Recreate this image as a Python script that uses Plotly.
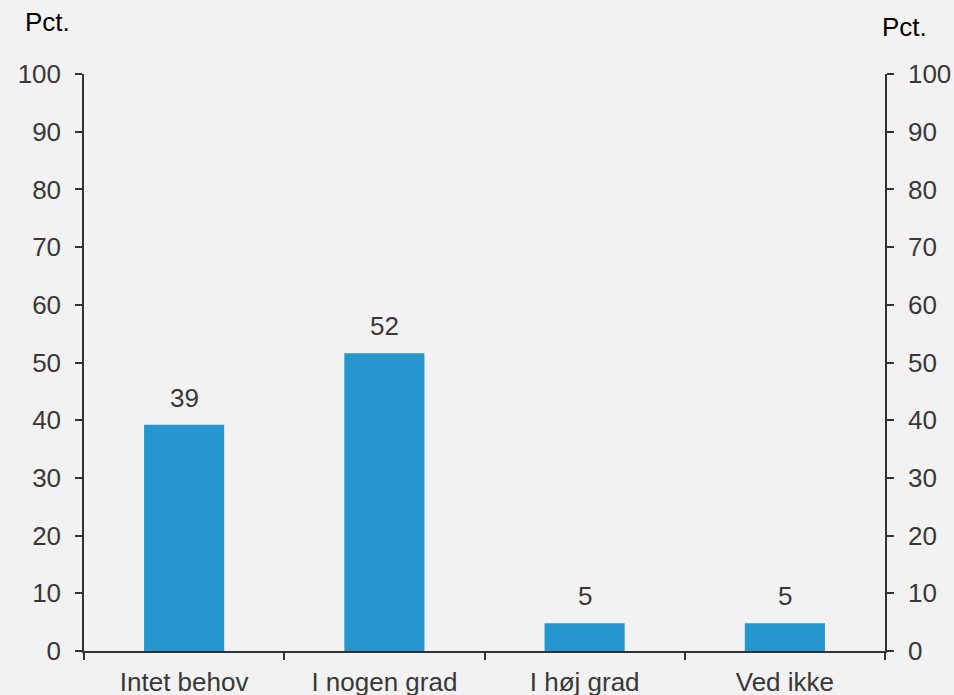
import plotly.graph_objects as go

categories = ["Intet behov", "I nogen grad", "I høj grad", "Ved ikke"]
values = [39.2, 51.6, 4.8, 4.8]
y_ticks = [0, 10, 20, 30, 40, 50, 60, 70, 80, 90, 100]

bar_color = "#2596CE"
bg = "#F2F2F2"
axis_color = "#333333"
text_color = "#383838"
font = "Liberation Sans, Arial, sans-serif"
fs = 26

fig = go.Figure()
fig.add_trace(go.Bar(
    x=categories, y=values, width=0.4,
    marker=dict(color=bar_color, line=dict(width=0)),
    hoverinfo="skip",
))
# invisible trace for right axis
fig.add_trace(go.Scatter(x=categories, y=values, yaxis="y2", mode="markers",
                         marker=dict(opacity=0), hoverinfo="skip", showlegend=False))

axis_common = dict(
    range=[0, 100], tickvals=y_ticks, showgrid=False, zeroline=False,
    showline=True, linecolor=axis_color, linewidth=1.5,
    ticks="outside", ticklen=7, tickwidth=1.5, tickcolor=axis_color,
    ticklabelstandoff=9, automargin=False,
    tickfont=dict(size=fs, color=text_color, family=font),
)

annotations = [
    dict(x=c, y=v, xref="x", yref="y", text=f"{round(v)}", showarrow=False,
         yanchor="bottom", yshift=10,
         font=dict(size=fs, color=text_color, family=font))
    for c, v in zip(categories, values)
]
annotations += [
    dict(text="Pct.", xref="paper", yref="paper", x=-0.076, y=1.09,
         xanchor="left", yanchor="middle", showarrow=False,
         font=dict(size=fs, color="#000000", family=font)),
    dict(text="Pct.", xref="paper", yref="paper", x=0.994, y=1.082,
         xanchor="left", yanchor="middle", showarrow=False,
         font=dict(size=fs, color="#000000", family=font)),
]

fig.update_layout(
    width=954, height=695,
    paper_bgcolor=bg, plot_bgcolor=bg,
    margin=dict(l=84, r=69, t=74, b=44),
    showlegend=False,
    xaxis=dict(
        type="category", tickson="boundaries", showgrid=False,
        showline=True, linecolor=axis_color, linewidth=1.5,
        ticks="outside", ticklen=7, tickwidth=1.5, tickcolor=axis_color,
        ticklabelstandoff=7, automargin=False,
        tickfont=dict(size=fs, color=text_color, family=font),
        range=[-0.5, 3.5],
    ),
    yaxis=dict(side="left", **axis_common),
    yaxis2=dict(side="right", overlaying="y", **axis_common),
    annotations=annotations,
)

fig.write_html("out.html", config={"displayModeBar": False},
               post_script="document.body.style.margin='0';")
